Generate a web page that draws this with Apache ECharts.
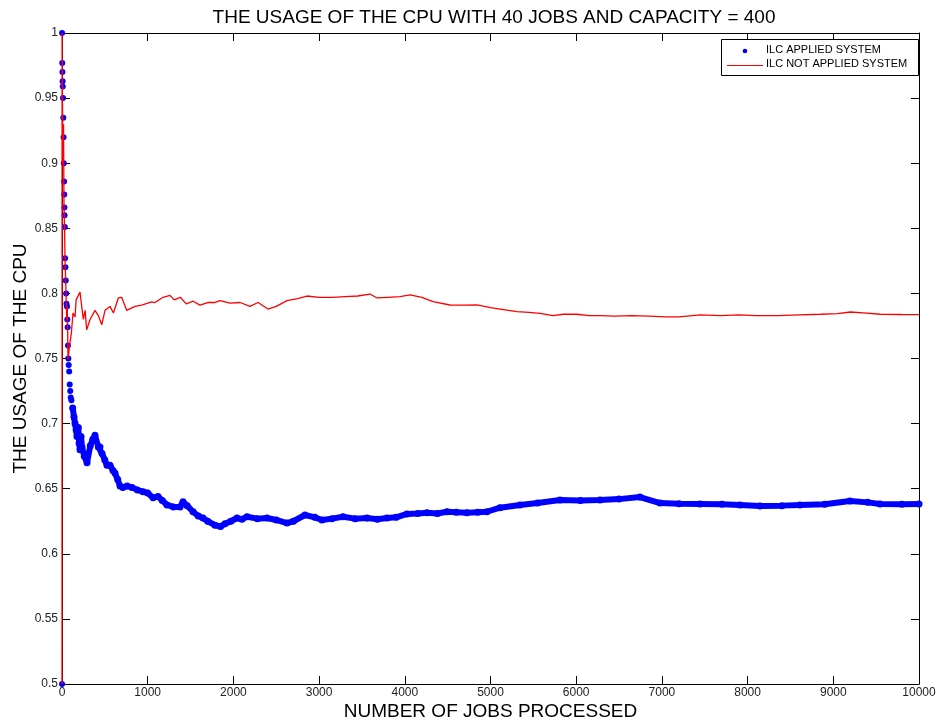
<!DOCTYPE html>
<html>
<head>
<meta charset="utf-8">
<script src="https://cdn.jsdelivr.net/npm/echarts@6/dist/echarts.min.js"></script>
<style>
  html, body { margin: 0; padding: 0; background: #fff; }
  #chart { width: 937px; height: 726px; }
</style>
</head>
<body>
<div id="chart"></div>
<script>
// CPU usage (running value) against the number of jobs processed
const jobsIlc = [0, 0, 1, 3, 5, 7, 9, 12, 15, 18, 21, 24, 26, 28, 30, 33, 36, 40, 44, 48, 52, 58, 62, 66, 70, 74, 78, 84, 90, 96, 102, 110, 125, 140, 152, 165, 175, 190, 200, 210, 222, 233, 260, 292, 330, 360, 385, 424, 443, 467, 500, 525, 560, 595, 618, 650, 677, 710, 760, 817, 880, 945, 1000, 1062, 1120, 1170, 1225, 1300, 1377, 1412, 1460, 1529, 1590, 1645, 1700, 1785, 1850, 1902, 1970, 2042, 2100, 2159, 2280, 2392, 2500, 2625, 2700, 2835, 2950, 3034, 3150, 3279, 3420, 3559, 3680, 3792, 3900, 4026, 4150, 4259, 4380, 4492, 4600, 4726, 4850, 4959, 5111, 5344, 5550, 5811, 6050, 6278, 6500, 6744, 6978, 7200, 7444, 7700, 7911, 8145, 8400, 8611, 8900, 9195, 9400, 9545, 9800, 10000];
const usageIlc = [0.5, '-', 1.0, 0.977, 0.970, 0.963, 0.959, 0.95, 0.935, 0.92, 0.90, 0.886, 0.876, 0.866, 0.86, 0.851, 0.827, 0.82, 0.81, 0.80, 0.792, 0.79, 0.78, 0.774, 0.76, 0.75, 0.745, 0.74, 0.73, 0.725, 0.72, 0.718, 0.712, 0.705, 0.70, 0.695, 0.69, 0.697, 0.685, 0.68, 0.69, 0.682, 0.675, 0.670, 0.683, 0.688, 0.691, 0.682, 0.682, 0.677, 0.672, 0.668, 0.668, 0.664, 0.662, 0.657, 0.652, 0.651, 0.652, 0.651, 0.649, 0.6477, 0.6467, 0.643, 0.644, 0.641, 0.6375, 0.636, 0.636, 0.640, 0.637, 0.6323, 0.629, 0.6275, 0.625, 0.622, 0.621, 0.623, 0.625, 0.6275, 0.6265, 0.6285, 0.627, 0.6275, 0.626, 0.6236, 0.625, 0.6298, 0.628, 0.626, 0.627, 0.6285, 0.627, 0.6275, 0.6265, 0.6275, 0.628, 0.6306, 0.631, 0.6316, 0.631, 0.6323, 0.632, 0.6316, 0.632, 0.6323, 0.6354, 0.6375, 0.639, 0.6413, 0.641, 0.6413, 0.642, 0.6436, 0.639, 0.6385, 0.6383, 0.638, 0.6375, 0.6367, 0.637, 0.6375, 0.638, 0.6406, 0.6395, 0.6383, 0.638, 0.6383];

const jobsNoIlc = [0, 1, 5, 12, 18, 23, 30, 35, 47, 55, 62, 70, 80, 93, 110, 128, 152, 165, 183, 210, 230, 249, 270, 288, 327, 385, 424, 464, 502, 560, 600, 657, 696, 755, 852, 930, 1046, 1085, 1180, 1260, 1310, 1380, 1450, 1530, 1610, 1700, 1780, 1844, 1960, 2077, 2194, 2287, 2404, 2500, 2625, 2750, 2859, 3000, 3162, 3300, 3450, 3594, 3676, 3800, 3944, 4061, 4200, 4329, 4527, 4700, 4842, 5000, 5111, 5309, 5450, 5578, 5729, 5850, 6009, 6150, 6278, 6450, 6650, 6850, 7050, 7200, 7450, 7680, 7900, 8100, 8350, 8600, 8850, 9050, 9200, 9350, 9550, 9800, 10000];
const usageNoIlc = [0.5, 1.0, 0.95, 0.90, 0.93, 0.87, 0.85, 0.828, 0.80, 0.78, 0.79, 0.749, 0.755, 0.762, 0.77, 0.785, 0.782, 0.795, 0.794, 0.801, 0.79, 0.78, 0.787, 0.772, 0.78, 0.787, 0.783, 0.776, 0.787, 0.79, 0.785, 0.7965, 0.797, 0.787, 0.79, 0.791, 0.7935, 0.793, 0.797, 0.7985, 0.795, 0.797, 0.792, 0.794, 0.791, 0.793, 0.793, 0.7944, 0.7925, 0.793, 0.790, 0.793, 0.788, 0.790, 0.7944, 0.796, 0.798, 0.797, 0.797, 0.7975, 0.798, 0.7995, 0.7965, 0.797, 0.7975, 0.7988, 0.797, 0.7937, 0.7911, 0.791, 0.7911, 0.789, 0.788, 0.786, 0.7855, 0.7847, 0.783, 0.784, 0.784, 0.783, 0.783, 0.7825, 0.783, 0.7825, 0.782, 0.782, 0.7835, 0.783, 0.7835, 0.783, 0.783, 0.7835, 0.784, 0.7845, 0.7857, 0.785, 0.784, 0.7838, 0.7837];

const seriesNames = ['ILC APPLIED SYSTEM', 'ILC NOT APPLIED SYSTEM'];
const xTicks = { min: 0, max: 10000, interval: 1000 };
const yTicks = { min: 0.5, max: 1, interval: 0.05 };

const pairs = (xs, ys) => xs.map((x, i) => [x, ys[i]]);

// The first jobs scatter widely and show as separate dots; after that the
// dense markers merge into a continuous band.
const BAND_FROM = 125;
const ilcAll = pairs(jobsIlc, usageIlc);
const ilcEarly = ilcAll.filter(p => p[0] <= BAND_FROM);
const ilcBand = ilcAll.filter(p => p[0] >= BAND_FROM);

const BLUE = '#0000ff';
const RED = '#ff0000';
const FONT = 'Liberation Sans, Arial, sans-serif';
const chart = echarts.init(document.getElementById('chart'), null, { renderer: 'canvas' });

const axisCommon = {
  type: 'value',
  axisLine: { show: true, onZero: false, lineStyle: { color: '#000', width: 1 } },
  axisTick: { show: true, inside: true, length: 8, lineStyle: { color: '#000', width: 1 } },
  splitLine: { show: false }
};

// boxed key in the top-right corner of the plot
const legendBox = { x: 721, y: 39, w: 197, h: 36 };
const keyText = (text, y) => ({
  type: 'text', left: 766, top: y - 7,
  style: { text, fontFamily: FONT, fontSize: 11, fill: '#000' }
});

chart.setOption({
  backgroundColor: '#fff',
  animation: false,
  title: {
    text: 'THE USAGE OF THE CPU WITH 40 JOBS AND CAPACITY = 400',
    left: 489,
    textAlign: 'center',
    top: 3,
    textStyle: { fontFamily: FONT, fontSize: 19, fontWeight: 'normal', color: '#000' }
  },
  graphic: [
    { type: 'rect', z: 10, shape: { x: legendBox.x + 0.5, y: legendBox.y + 0.5, width: legendBox.w, height: legendBox.h },
      style: { fill: '#fff', stroke: '#000', lineWidth: 1 } },
    { type: 'circle', z: 11, shape: { cx: 745, cy: 51, r: 2.3 }, style: { fill: BLUE } },
    { type: 'line', z: 11, shape: { x1: 727, y1: 65.5, x2: 763, y2: 65.5 }, style: { stroke: RED, lineWidth: 1 } },
    Object.assign(keyText(seriesNames[0], 51), { z: 11 }),
    Object.assign(keyText(seriesNames[1], 65), { z: 11 })
  ],
  grid: { left: 62, right: 18, top: 33, bottom: 42, containLabel: false, outerBoundsMode: 'none' },
  xAxis: [
    Object.assign({}, axisCommon, xTicks, {
      position: 'bottom',
      name: 'NUMBER OF JOBS PROCESSED',
      nameLocation: 'middle',
      nameGap: 18,
      nameMoveOverlap: false,
      nameTextStyle: { fontFamily: FONT, fontSize: 19, color: '#000' },
      axisLabel: { fontFamily: FONT, fontSize: 12, color: '#222', margin: 3, formatter: v => String(v) }
    }),
    Object.assign({}, axisCommon, xTicks, {
      position: 'top',
      axisLabel: { show: false }
    })
  ],
  yAxis: [
    Object.assign({}, axisCommon, yTicks, {
      position: 'left',
      name: 'THE USAGE OF THE CPU',
      nameLocation: 'middle',
      nameGap: 32,
      nameMoveOverlap: false,
      nameTextStyle: { fontFamily: FONT, fontSize: 19, color: '#000' },
      axisLabel: { fontFamily: FONT, fontSize: 12, color: '#222', margin: 4 }
    }),
    Object.assign({}, axisCommon, yTicks, {
      position: 'right',
      axisLabel: { show: false }
    })
  ],
  series: [
    {
      name: seriesNames[0],
      type: 'line',
      data: ilcEarly,
      symbol: 'circle',
      symbolSize: 6,
      showSymbol: true,
      showAllSymbol: true,
      clip: false,
      connectNulls: false,
      itemStyle: { color: BLUE },
      lineStyle: { color: BLUE, width: 0, opacity: 0 },
      z: 2
    },
    {
      name: seriesNames[0],
      type: 'line',
      data: ilcBand,
      symbol: 'circle',
      symbolSize: 7,
      showSymbol: true,
      showAllSymbol: true,
      clip: false,
      itemStyle: { color: BLUE },
      lineStyle: { color: BLUE, width: 6 },
      z: 2
    },
    {
      name: seriesNames[1],
      type: 'line',
      data: pairs(jobsNoIlc, usageNoIlc),
      symbol: 'none',
      showSymbol: false,
      clip: false,
      itemStyle: { color: RED },
      lineStyle: { color: RED, width: 1.3 },
      z: 3
    }
  ]
});
</script>
</body>
</html>
